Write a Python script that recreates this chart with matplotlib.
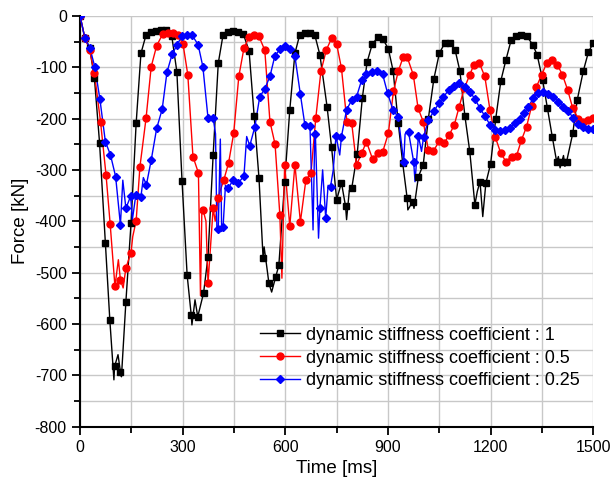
import numpy as np
import matplotlib
matplotlib.use("Agg")
import matplotlib.pyplot as plt
from matplotlib.ticker import MultipleLocator

plt.rcParams['font.family'] = ['Liberation Sans', 'DejaVu Sans']
plt.rcParams['axes.unicode_minus'] = False

# dynamic stiffness coefficient : 1 (marker points, then extra spikes between markers)
t_k1 = [0, 14, 28, 42, 57, 74, 87, 101, 118, 134, 149, 164, 178, 193, 208, 222, 237, 252, 268, 283,
        298, 313, 325, 344, 361, 374, 389, 404, 418, 433, 447, 462, 477, 494, 509, 523, 535, 552, 572, 581,
        598, 613, 628, 642, 657, 672, 686, 701, 722, 735, 750, 764, 776, 794, 810, 825, 839, 854, 870, 885,
        901, 915, 930, 943, 956, 972, 989, 1003, 1018, 1034, 1050, 1066, 1081, 1096, 1110, 1125, 1139, 1154, 1169, 1186,
        1200, 1215, 1230, 1245, 1260, 1275, 1290, 1305, 1323, 1336, 1352, 1366, 1380, 1393, 1408, 1422, 1440, 1453, 1471, 1486,
        1500]
f_k1 = [0, -43, -62, -121, -247, -442, -592, -683, -693, -557, -404, -209, -73, -37, -32, -29, -27, -28, -39, -109,
        -321, -505, -583, -586, -540, -469, -271, -92, -37, -31, -29, -31, -35, -68, -196, -316, -472, -521, -508, -486,
        -324, -183, -73, -37, -33, -33, -37, -76, -177, -255, -358, -325, -371, -336, -269, -160, -90, -55, -42, -45,
        -64, -107, -209, -287, -355, -362, -313, -290, -200, -123, -73, -53, -53, -66, -107, -196, -264, -368, -323, -326,
        -288, -200, -126, -85, -47, -39, -37, -39, -56, -76, -125, -180, -235, -284, -284, -284, -229, -164, -107, -70,
        -53]
ts_k1 = [99, 111, 121, 327, 336, 538, 546, 560, 779, 787, 958, 976, 1161, 1177, 1398, 1403, 1413, 1417]
fs_k1 = [-709, -660, -703, -602, -553, -450, -490, -538, -397, -340, -378, -375, -342, -391, -274, -296, -272, -293]

# dynamic stiffness coefficient : 0.5
t_k05 = [0, 14, 28, 42, 60, 76, 88, 102, 118, 134, 149, 164, 175, 193, 208, 224, 242, 257, 272, 286,
         301, 315, 330, 346, 360, 374, 389, 404, 420, 434, 449, 464, 479, 494, 508, 523, 540, 555, 570, 584,
         598, 613, 628, 644, 660, 675, 689, 704, 720, 735, 750, 764, 780, 794, 808, 823, 837, 855, 870, 884,
         901, 916, 930, 944, 956, 974, 988, 1003, 1018, 1032, 1050, 1064, 1079, 1094, 1108, 1123, 1139, 1151, 1167, 1183,
         1198, 1213, 1230, 1245, 1261, 1276, 1290, 1305, 1320, 1334, 1349, 1364, 1380, 1395, 1410, 1425, 1440, 1456, 1471, 1486,
         1500]
f_k05 = [0, -43, -66, -112, -207, -310, -405, -527, -514, -491, -461, -399, -294, -199, -99, -58, -35, -33, -34, -37,
         -55, -115, -274, -306, -379, -521, -375, -355, -320, -287, -229, -118, -63, -41, -37, -40, -67, -206, -250, -388,
         -290, -410, -290, -401, -320, -306, -199, -108, -66, -44, -55, -102, -206, -209, -290, -268, -245, -279, -268, -266,
         -229, -147, -108, -81, -80, -115, -180, -206, -261, -264, -244, -248, -232, -212, -177, -141, -115, -95, -92, -118,
         -183, -235, -268, -284, -274, -272, -242, -216, -175, -138, -115, -92, -86, -95, -115, -144, -180, -200, -206, -203,
         -199]
ts_k05 = [112, 126, 154, 352, 356, 368, 395, 410, 590]
fs_k05 = [-475, -530, -430, -545, -380, -400, -400, -340, -511]

# dynamic stiffness coefficient : 0.25
t_k025 = [0, 14, 29, 43, 58, 74, 89, 104, 118, 134, 148, 163, 178, 194, 208, 224, 240, 254, 269, 284,
          298, 313, 327, 345, 359, 374, 389, 404, 418, 433, 447, 462, 479, 496, 511, 525, 540, 555, 569, 584,
          598, 613, 628, 644, 657, 672, 686, 701, 718, 732, 748, 764, 779, 794, 808, 823, 837, 852, 869, 884,
          899, 915, 930, 946, 960, 975, 989, 1004, 1018, 1034, 1049, 1062, 1078, 1093, 1108, 1125, 1140, 1154, 1169, 1183,
          1198, 1213, 1227, 1242, 1257, 1271, 1286, 1298, 1310, 1325, 1339, 1354, 1368, 1383, 1398, 1412, 1427, 1442, 1456, 1471,
          1486, 1500]
f_k025 = [0, -43, -63, -99, -162, -245, -271, -313, -407, -375, -351, -349, -352, -329, -281, -219, -182, -110, -75, -56,
          -39, -37, -37, -56, -99, -199, -199, -415, -412, -336, -320, -326, -312, -253, -216, -158, -142, -118, -79, -65,
          -58, -65, -79, -153, -212, -215, -230, -375, -394, -333, -234, -235, -183, -164, -158, -125, -114, -109, -108, -113,
          -151, -184, -197, -285, -226, -284, -234, -236, -203, -186, -170, -158, -144, -137, -130, -138, -148, -162, -180, -195,
          -212, -222, -224, -222, -218, -209, -200, -190, -177, -160, -151, -149, -152, -158, -167, -177, -186, -199, -210, -217,
          -221, -221]
ts_k025 = [125, 153, 185, 396, 400, 410, 414, 425, 487, 681, 688, 697, 709, 725, 740, 759, 950, 979, 998]
fs_k025 = [-320, -397, -315, -230, -420, -240, -420, -330, -235, -417, -235, -433, -300, -330, -300, -271, -230, -323, -264]

labels = ['dynamic stiffness coefficient : 1',
          'dynamic stiffness coefficient : 0.5',
          'dynamic stiffness coefficient : 0.25']

fig, ax = plt.subplots(figsize=(6.11, 4.96), dpi=100)
fig.subplots_adjust(left=0.131, right=0.971, top=0.968, bottom=0.14)

series = [(t_k1, f_k1, ts_k1, fs_k1, 'black', 's', 4.6),
          (t_k05, f_k05, ts_k05, fs_k05, 'red', 'o', 5.0),
          (t_k025, f_k025, ts_k025, fs_k025, 'blue', 'D', 4.4)]

for (t, f, ts, fs, c, m, ms), lab in zip(series, labels):
    # line through markers and spikes, markers only on main points
    tt = np.array(t + ts)
    ff = np.array(f + fs)
    order = np.argsort(tt, kind='stable')
    ax.plot(tt[order], ff[order], color=c, lw=1.0, zorder=3)
    ax.plot(t, f, color=c, lw=0, marker=m, ms=ms, zorder=4)
    ax.plot([], [], color=c, lw=1.0, marker=m, ms=ms, label=lab)

ax.set_xlim(0, 1500)
ax.set_ylim(-800, 0)
ax.xaxis.set_major_locator(MultipleLocator(300))
ax.xaxis.set_minor_locator(MultipleLocator(150))
ax.yaxis.set_major_locator(MultipleLocator(100))
ax.yaxis.set_minor_locator(MultipleLocator(50))
ax.grid(True, which='both', color='#c8c8c8', lw=1.0, zorder=0)
ax.set_axisbelow(True)

for s in ['top', 'right']:
    ax.spines[s].set_visible(False)
for s in ['left', 'bottom']:
    ax.spines[s].set_linewidth(1.5)

ax.tick_params(which='major', direction='out', length=6, width=1.3, labelsize=11.5)
ax.tick_params(which='minor', direction='out', length=4, width=1.3)

ax.set_xlabel('Time [ms]', fontsize=13.5)
ax.set_ylabel('Force [kN]', fontsize=13.5)

ax.legend(loc='upper left', bbox_to_anchor=(0.334, 0.265), frameon=False, fontsize=13.0,
          handlelength=2.2, labelspacing=0.32, borderpad=0, handletextpad=0.3)

fig.savefig('out.png', dpi=100)
